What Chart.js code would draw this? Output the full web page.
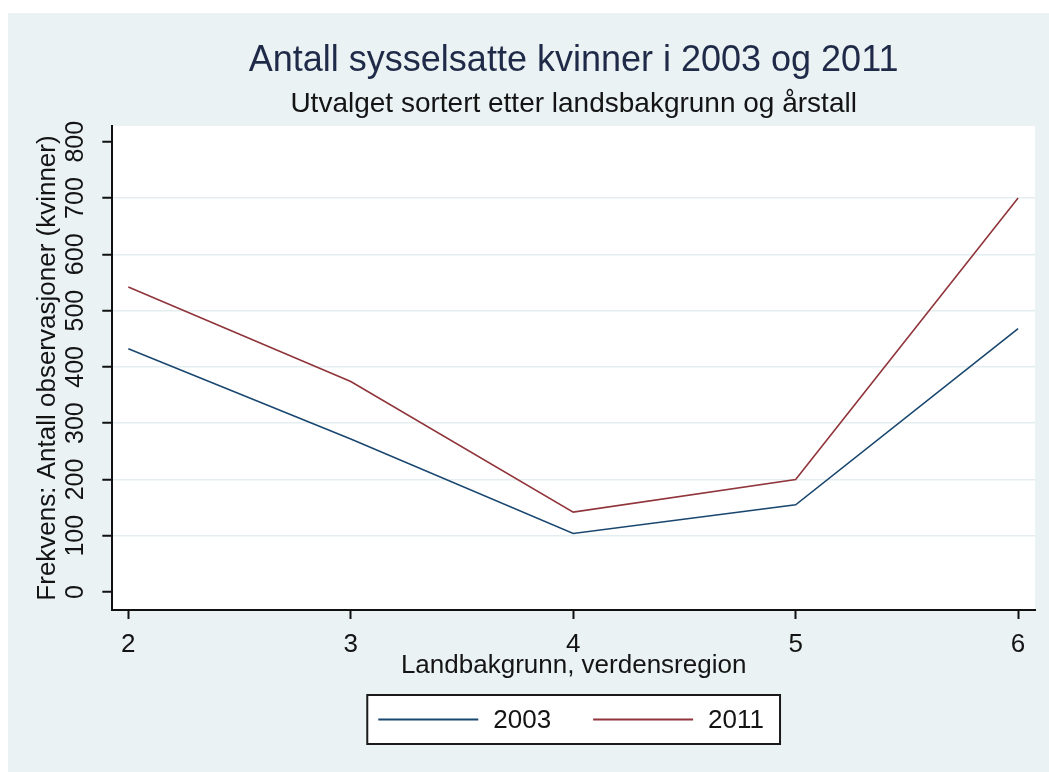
<!DOCTYPE html>
<html>
<head>
<meta charset="utf-8">
<script src="https://cdn.jsdelivr.net/npm/chart.js@4.4.0/dist/chart.umd.min.js"></script>
<style>
  html, body { margin: 0; padding: 0; background: #ffffff; }
  canvas { display: block; }
</style>
</head>
<body>
<canvas id="c" width="1049" height="772" style="width:1049px;height:772px"></canvas>
<script>
// ---- data ----
const regions = [2, 3, 4, 5, 6];
const women2003 = [432, 272, 104, 155, 468];
const women2011 = [542, 374, 142, 200, 700];
const seriesLabels = ['2003', '2011'];
const xTickValues = [2, 3, 4, 5, 6];
const yTickValues = [0, 100, 200, 300, 400, 500, 600, 700, 800];
const titleText = 'Antall sysselsatte kvinner i 2003 og 2011';
const subtitleText = 'Utvalget sortert etter landsbakgrunn og årstall';
const xTitleText = 'Landbakgrunn, verdensregion';
const yTitleText = 'Frekvens: Antall observasjoner (kvinner)';

const FONT = '"Liberation Sans", Arial, Helvetica, sans-serif';
const BG = '#eaf2f3';
const TEXT = '#141414';

Chart.defaults.font.family = FONT;

const bgPlugin = {
  id: 'bgPlugin',
  beforeDraw(chart) {
    const { ctx, chartArea: a } = chart;
    ctx.save();
    ctx.fillStyle = '#ffffff';
    ctx.fillRect(0, 0, chart.width, chart.height);
    ctx.fillStyle = BG;
    ctx.fillRect(8, 13, chart.width - 8, chart.height - 13);
    ctx.fillStyle = '#ffffff';
    ctx.fillRect(a.left, a.top, a.right - a.left, a.bottom - a.top);
    ctx.restore();
  }
};

const legendPlugin = {
  id: 'boxLegend',
  afterDraw(chart) {
    const { ctx, chartArea: a } = chart;
    const cx = (a.left + a.right) / 2;
    const top = 695, h = 49;
    ctx.save();
    ctx.font = '26px ' + FONT;
    const lineLen = 100, gapText = 15, gapItem = 42, padL = 11, padR = 16;
    const items = chart.data.datasets.map(d => ({ label: d.label, color: d.borderColor, w: ctx.measureText(d.label).width }));
    let total = padL + padR;
    items.forEach((it, i) => { total += lineLen + gapText + it.w + (i < items.length - 1 ? gapItem : 0); });
    const left = cx - total / 2;
    ctx.fillStyle = '#ffffff';
    ctx.fillRect(left, top, total, h);
    ctx.strokeStyle = '#1a1a1a';
    ctx.lineWidth = 2;
    ctx.strokeRect(left, top, total, h);
    let x = left + padL;
    const y = top + h / 2;
    items.forEach(it => {
      ctx.strokeStyle = it.color;
      ctx.lineWidth = 2;
      ctx.beginPath();
      ctx.moveTo(x, y);
      ctx.lineTo(x + lineLen, y);
      ctx.stroke();
      x += lineLen + gapText;
      ctx.fillStyle = TEXT;
      ctx.textBaseline = 'middle';
      ctx.textAlign = 'left';
      ctx.fillText(it.label, x, y + 1);
      x += it.w + gapItem;
    });
    ctx.restore();
  }
};

const toPts = (xs, ys) => xs.map((x, i) => ({ x: x, y: ys[i] }));

new Chart(document.getElementById('c'), {
  type: 'line',
  data: {
    datasets: [
      { label: seriesLabels[0], data: toPts(regions, women2003), borderColor: '#1a476f', borderWidth: 1.6, pointRadius: 0, tension: 0, fill: false },
      { label: seriesLabels[1], data: toPts(regions, women2011), borderColor: '#90353b', borderWidth: 1.6, pointRadius: 0, tension: 0, fill: false }
    ]
  },
  options: {
    responsive: false,
    animation: false,
    devicePixelRatio: 1,
    layout: { padding: { top: 39.4, left: 32.3, right: 14, bottom: 86.4 } },
    plugins: {
      legend: { display: false },
      tooltip: { enabled: false },
      title: {
        display: true, text: titleText, fullSize: false, color: '#1f2a48',
        font: { size: 36, weight: 'normal', lineHeight: 1.2 },
        padding: { top: 0, bottom: 4.6 }
      },
      subtitle: {
        display: true, text: subtitleText, fullSize: false, color: TEXT,
        font: { size: 28, weight: 'normal', lineHeight: 1.2 },
        padding: { top: 0, bottom: 5.2 }
      }
    },
    scales: {
      x: {
        type: 'linear', min: 1.928, max: 6.076,
        afterBuildTicks: s => { s.ticks = xTickValues.map(v => ({ value: v })); },
        ticks: { color: TEXT, font: { size: 26, lineHeight: 1.0 }, padding: 13, callback: v => String(v) },
        grid: { drawOnChartArea: false, drawTicks: true, tickLength: 9, tickColor: '#111', tickWidth: 2 },
        border: { color: '#111', width: 2 },
        title: { display: true, text: xTitleText, color: TEXT, font: { size: 26, lineHeight: 1.2 }, padding: { top: -20.6, bottom: 4 } }
      },
      y: {
        type: 'linear', min: -32, max: 828,
        afterBuildTicks: s => { s.ticks = yTickValues.map(v => ({ value: v })); },
        ticks: { color: TEXT, font: { size: 25, lineHeight: 1.2 }, padding: 5, minRotation: 90, maxRotation: 90, crossAlign: 'center', callback: v => String(v) },
        grid: {
          color: c => (c.tick && c.tick.value >= 100 && c.tick.value <= 700) ? '#e4eef0' : 'rgba(0,0,0,0)',
          lineWidth: 1.5, drawTicks: true, tickLength: 10, tickColor: '#111', tickWidth: 2
        },
        border: { color: '#111', width: 2 },
        title: { display: true, text: yTitleText, color: TEXT, font: { size: 26, lineHeight: 1.2 }, padding: { top: 0, bottom: -1.2 } }
      }
    }
  },
  plugins: [bgPlugin, legendPlugin]
});
</script>
</body>
</html>
